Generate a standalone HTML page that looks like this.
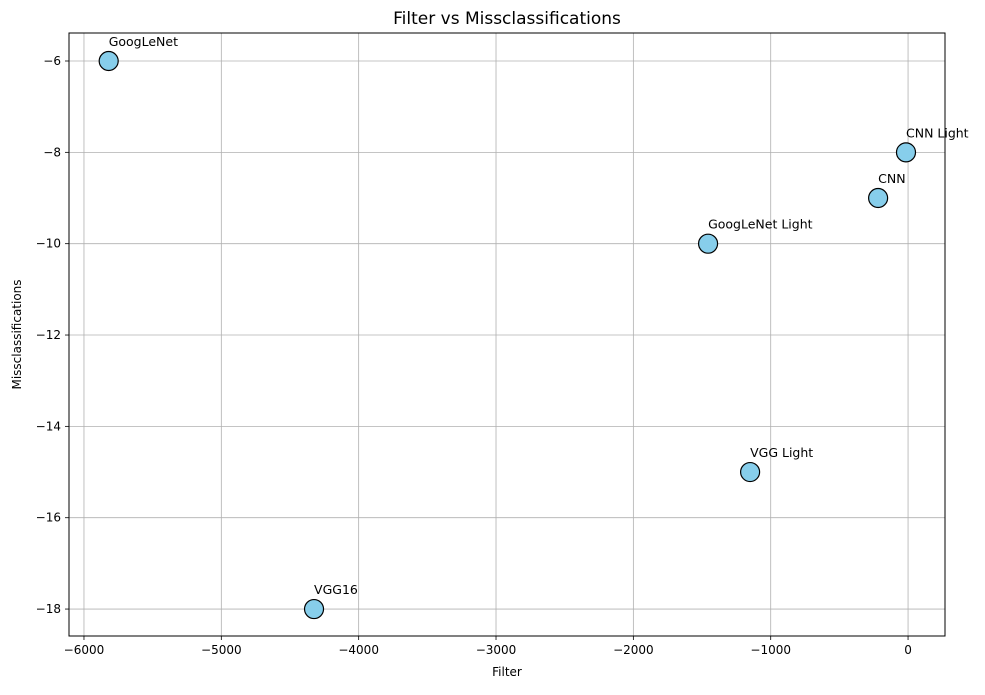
<!DOCTYPE html>
<html><head><meta charset="utf-8"><style>
body{margin:0;background:#fff;font-family:"Liberation Sans","DejaVu Sans",sans-serif;}
svg text{font-family:"DejaVu Sans","Liberation Sans",sans-serif;}
</style></head><body>
<svg id="chart" width="985" height="690"></svg>
<script>
const labels=["GoogLeNet","CNN Light","CNN","GoogLeNet Light","VGG Light","VGG16"];
const filterVals=[-5820,-15,-218,-1456,-1150,-4325];
const missVals=[-6,-8,-9,-10,-15,-18];
const xTicks=[-6000,-5000,-4000,-3000,-2000,-1000,0];
const yTicks=[-6,-8,-10,-12,-14,-16,-18];
const L=69,R=945,T=33,B=636,xmin=-6109,xmax=269,ymin=-18.59,ymax=-5.387;
const X=v=>L+(v-xmin)/(xmax-xmin)*(R-L);
const Y=v=>B-(v-ymin)/(ymax-ymin)*(B-T);
const NS="http://www.w3.org/2000/svg",svg=document.getElementById("chart");
function mk(t,a,txt){const e=document.createElementNS(NS,t);for(const k in a)e.setAttribute(k,a[k]);if(txt!=null)e.textContent=txt;svg.appendChild(e);return e;}
const fmt=v=>v<0?"\u2212"+Math.abs(v):String(v);
xTicks.forEach(v=>{const x=X(v);
let g=mk("line",{x1:x,x2:x,y1:T,y2:B,stroke:"#b0b0b0","stroke-width":0.8});


mk("line",{x1:x,x2:x,y1:B,y2:B+4,stroke:"#000","stroke-width":0.8});
let t=mk("text",{x:x,y:B+18,"text-anchor":"middle","font-size":12},fmt(v));

});
yTicks.forEach(v=>{const y=Y(v);
let g=mk("line",{x1:L,x2:R,y1:y,y2:y,stroke:"#b0b0b0","stroke-width":0.8});


mk("line",{x1:L-4,x2:L,y1:y,y2:y,stroke:"#000","stroke-width":0.8});
let t=mk("text",{x:L-8,y:y+4,"text-anchor":"end","font-size":12},fmt(v));

});
let fr=mk("rect",{x:L,y:T,width:R-L,height:B-T,fill:"none",stroke:"#000","stroke-width":1});


labels.forEach((n,i)=>{const x=X(filterVals[i]),y=Y(missVals[i]);
let c=mk("circle",{cx:x,cy:y,r:9.5,fill:"#87ceeb",stroke:"#000","stroke-width":1.2});


let t=mk("text",{x:x,y:y-15,"font-size":12.5},n);

});
let tt=mk("text",{x:(L+R)/2,y:24,"text-anchor":"middle","font-size":17},"Filter vs Missclassifications");


let xt=mk("text",{x:(L+R)/2,y:676,"text-anchor":"middle","font-size":12},"Filter");


let yt=mk("text",{x:21,y:(T+B)/2,"text-anchor":"middle","font-size":12,transform:`rotate(-90 21 ${(T+B)/2})`},"Missclassifications");


</script>
</body></html>
